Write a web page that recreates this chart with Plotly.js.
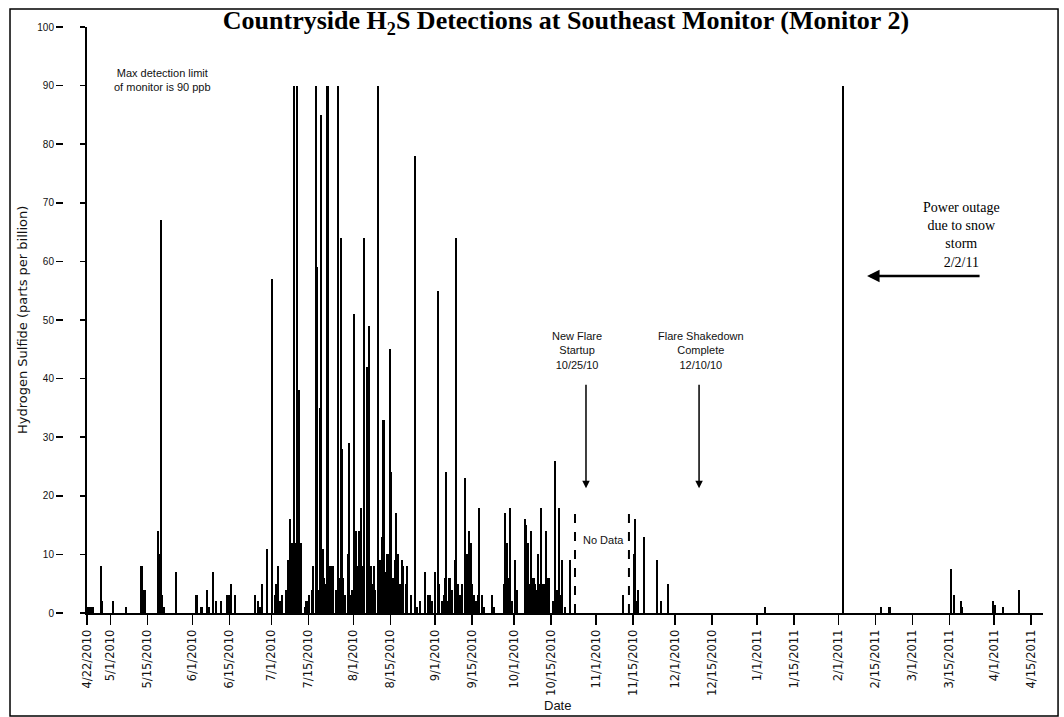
<!DOCTYPE html>
<html><head><meta charset="utf-8">
<script src="https://cdn.plot.ly/plotly-3.0.1.min.js"></script>
<style>html,body{margin:0;padding:0;background:#fff}#chart{width:1064px;height:717px}</style>
</head><body><div id="chart"></div>
<script>
// H2S readings (ppb)
const dates = [
 '2010-04-22 14:00','2010-04-23 12:00','2010-04-24 10:00','2010-04-27 11:00','2010-04-27 20:00',
 '2010-05-01 18:00','2010-05-06 19:00','2010-05-12 16:00','2010-05-13 05:00','2010-05-13 22:00',
 '2010-05-18 22:00','2010-05-19 10:00','2010-05-19 22:00','2010-05-20 08:00','2010-05-21 02:00','2010-05-25 19:00',
 '2010-06-02 05:00','2010-06-02 19:00','2010-06-04 02:00','2010-06-04 17:00','2010-06-06 14:00','2010-06-07 05:00',
 '2010-06-08 19:00','2010-06-10 00:00','2010-06-11 17:00','2010-06-14 05:00','2010-06-14 19:00','2010-06-15 12:00',
 '2010-06-17 00:00','2010-06-24 17:00','2010-06-26 00:00','2010-06-26 12:00','2010-06-27 12:00','2010-06-29 08:00',
 '2010-07-01 00:00','2010-07-01 06:00','2010-07-02 07:00','2010-07-02 19:00','2010-07-03 12:00','2010-07-04 05:00',
 '2010-07-04 19:00','2010-07-06 12:00','2010-07-07 07:00','2010-07-08 00:00','2010-07-08 14:00','2010-07-09 00:00',
 '2010-07-09 12:00','2010-07-10 05:00','2010-07-10 18:00','2010-07-11 07:00','2010-07-12 00:00','2010-07-13 17:00',
 '2010-07-14 05:00','2010-07-15 05:00','2010-07-16 05:00','2010-07-16 19:00','2010-07-17 17:00','2010-07-18 02:00',
 '2010-07-18 14:00','2010-07-19 10:00','2010-07-19 18:00','2010-07-20 10:00','2010-07-21 00:00','2010-07-21 14:00',
 '2010-07-22 05:00','2010-07-22 19:00','2010-07-23 05:00','2010-07-23 19:00','2010-07-24 10:00','2010-07-25 12:00',
 '2010-07-26 02:00','2010-07-26 19:00','2010-07-27 05:00','2010-07-27 14:00','2010-07-28 05:00','2010-07-28 19:00',
 '2010-07-29 22:00','2010-07-30 07:00','2010-07-31 00:00','2010-07-31 10:00',
 '2010-08-01 07:00','2010-08-01 22:00','2010-08-02 05:00','2010-08-02 17:00','2010-08-03 05:00','2010-08-03 14:00',
 '2010-08-04 00:00','2010-08-04 12:00','2010-08-05 00:00','2010-08-06 02:00','2010-08-06 12:00','2010-08-06 22:00',
 '2010-08-07 02:00','2010-08-07 14:00','2010-08-08 00:00','2010-08-08 19:00','2010-08-09 05:00','2010-08-10 05:00',
 '2010-08-11 00:00','2010-08-11 05:00','2010-08-11 19:00','2010-08-12 10:00','2010-08-13 00:00','2010-08-13 17:00',
 '2010-08-14 07:00','2010-08-14 22:00','2010-08-15 05:00','2010-08-16 05:00','2010-08-16 17:00','2010-08-17 02:00',
 '2010-08-18 02:00','2010-08-18 14:00','2010-08-19 10:00','2010-08-19 19:00','2010-08-20 19:00','2010-08-21 07:00',
 '2010-08-22 19:00','2010-08-24 05:00','2010-08-25 00:00','2010-08-26 10:00','2010-08-28 00:00','2010-08-29 12:00',
 '2010-08-30 02:00','2010-08-30 19:00',
 '2010-09-01 02:00','2010-09-02 02:00','2010-09-02 14:00','2010-09-03 14:00','2010-09-04 05:00','2010-09-04 22:00',
 '2010-09-05 07:00','2010-09-06 00:00','2010-09-06 10:00','2010-09-06 19:00','2010-09-07 12:00','2010-09-08 10:00',
 '2010-09-09 02:00','2010-09-09 19:00','2010-09-10 14:00','2010-09-11 07:00','2010-09-12 05:00','2010-09-12 12:00',
 '2010-09-13 07:00','2010-09-13 19:00','2010-09-14 10:00','2010-09-14 22:00','2010-09-15 17:00','2010-09-16 14:00',
 '2010-09-17 07:00','2010-09-17 14:00','2010-09-18 19:00','2010-09-19 10:00','2010-09-22 14:00','2010-09-23 07:00',
 '2010-09-27 05:00','2010-09-27 14:00','2010-09-28 02:00','2010-09-28 14:00','2010-09-29 07:00','2010-09-30 00:00',
 '2010-10-01 05:00','2010-10-02 00:00','2010-10-05 00:00','2010-10-05 07:00','2010-10-05 14:00','2010-10-06 05:00',
 '2010-10-06 19:00','2010-10-07 12:00','2010-10-07 22:00','2010-10-08 07:00','2010-10-08 19:00','2010-10-09 10:00',
 '2010-10-10 00:00','2010-10-10 14:00','2010-10-11 00:00','2010-10-11 22:00','2010-10-12 12:00','2010-10-13 05:00',
 '2010-10-13 19:00','2010-10-14 07:00','2010-10-15 14:00','2010-10-16 10:00','2010-10-17 05:00','2010-10-17 22:00',
 '2010-10-18 12:00','2010-10-19 02:00','2010-10-20 05:00','2010-10-22 07:00',
 '2010-11-11 02:00','2010-11-15 07:00','2010-11-15 19:00','2010-11-16 14:00','2010-11-17 02:00','2010-11-19 02:00',
 '2010-11-24 05:00','2010-11-25 17:00','2010-11-28 05:00',
 '2011-01-04 00:00','2011-02-02 12:00','2011-02-02 17:00','2011-02-17 00:00','2011-02-20 07:00',
 '2011-03-15 14:00','2011-03-16 17:00','2011-03-19 07:00','2011-03-19 17:00','2011-03-31 10:00',
 '2011-04-01 10:00','2011-04-04 05:00','2011-04-10 07:00'
];
const ppb = [
 1,1,1,8,2,
 2,1,8,4,4,
 14,10,67,3,1,7,
 3,3,1,1,4,1,
 7,2,2,3,3,5,
 3,3,2,1,5,11,
 57,44,3,5,8,2,
 3,4,9,16,12,9,
 90,12,90,38,12,1,
 2,3,4,8,90,59,
 4,35,85,11,6,5,
 90,8,8,8,8,4,
 90,6,64,28,6,3,
 10,29,3,4,
 51,14,8,8,14,7,
 18,8,64,42,20,7,
 49,8,5,8,4,90,
 9,3,13,33,7,10,
 10,45,24,6,9,17,
 10,5,9,8,5,8,
 3,78,1,2,7,3,
 3,2,
 7,55,5,2,3,6,
 24,2,6,6,4,9,
 64,5,3,5,23,9,
 10,14,12,5,3,2,
 3,18,3,1,3,1,
 5,17,12,6,18,2,
 9,4,16,9,15,12,
 5,14,4,6,5,4,
 10,5,18,5,5,14,
 6,6,2,26,4,18,
 3,9,1,9,
 3,10,16,2,4,13,
 9,2,5,
 1,90,66,1,1,
 7.5,3,2,1,2,
 1.3,1,4
];
const tickDates = ['2010-04-22','2010-05-01','2010-05-15','2010-06-01','2010-06-15','2010-07-01','2010-07-15',
 '2010-08-01','2010-08-15','2010-09-01','2010-09-15','2010-10-01','2010-10-15','2010-11-01','2010-11-15',
 '2010-12-01','2010-12-15','2011-01-01','2011-01-15','2011-02-01','2011-02-15','2011-03-01','2011-03-15',
 '2011-04-01','2011-04-15'];
const tickLabels = ['4/22/2010','5/1/2010','5/15/2010','6/1/2010','6/15/2010','7/1/2010','7/15/2010',
 '8/1/2010','8/15/2010','9/1/2010','9/15/2010','10/1/2010','10/15/2010','11/1/2010','11/15/2010',
 '12/1/2010','12/15/2010','1/1/2011','1/15/2011','2/1/2011','2/15/2011','3/1/2011','3/15/2011',
 '4/1/2011','4/15/2011'];
const yTicks = [0,10,20,30,40,50,60,70,80,90,100];

const DAY = 86400000;
const sans = 'Liberation Sans, Arial, sans-serif';
const dejavu = 'DejaVu Sans, sans-serif';
const serif = 'Liberation Serif, Times New Roman, serif';

const traces = [
  {type:'bar', x:dates, y:ppb, width:0.8*DAY, marker:{color:'#000', line:{width:0}}, hoverinfo:'x+y'},
  {type:'bar', x:dates, y:ppb, yaxis:'y2', width:0.8*DAY, marker:{color:'rgba(0,0,0,0)', line:{width:0}}, hoverinfo:'skip'}
];

const layout = {
  width:1064, height:717,
  margin:{l:40, r:21, t:27, b:104},
  paper_bgcolor:'#fff', plot_bgcolor:'#fff',
  showlegend:false, bargap:0,
  title:{text:'<b>Countryside H<sub>2</sub>S Detections at Southeast Monitor (Monitor 2)</b>',
    font:{family:serif, size:26, color:'#000'}, xref:'paper', x:0.5244, xanchor:'center',
    yref:'container', y:0.972, yanchor:'middle'},
  xaxis:{type:'date', domain:[0.04686,1], range:['2010-04-22','2011-04-19 12:00'],
    tickmode:'array', tickvals:tickDates, ticktext:tickLabels, tickangle:-90,
    ticks:'outside', ticklen:10, tickwidth:1.5, tickcolor:'#000',
    showline:true, linecolor:'#000', linewidth:2, showgrid:false, zeroline:false,
    tickfont:{family:dejavu, size:11.5, color:'#111'}, fixedrange:true},
  yaxis:{range:[0,100], tickmode:'array', tickvals:yTicks, ticks:'outside', ticklen:5, tickwidth:1.5,
    tickcolor:'#000', showticklabels:false, showline:true, linecolor:'#000', linewidth:2,
    showgrid:false, zeroline:false, fixedrange:true},
  yaxis2:{overlaying:'y', anchor:'free', position:0.0229, side:'left', range:[0,100],
    tickmode:'array', tickvals:yTicks, ticks:'outside', ticklen:7, tickwidth:1.5, tickcolor:'#000',
    showline:false, showgrid:false, zeroline:false, tickfont:{family:sans, size:10, color:'#111'}, fixedrange:true},
  shapes:[
    {type:'rect', xref:'paper', yref:'paper', x0:-0.0299, x1:1.015, y0:-0.1758, y1:1.0307,
      line:{color:'#000', width:1.5}, fillcolor:'rgba(0,0,0,0)'},
    {type:'line', xref:'x', yref:'y', x0:'2010-10-24 01:00', x1:'2010-10-24 01:00', y0:0, y1:17.4,
      line:{color:'#000', width:2, dash:'dash'}},
    {type:'line', xref:'x', yref:'y', x0:'2010-11-13 12:00', x1:'2010-11-13 12:00', y0:0, y1:17.4,
      line:{color:'#000', width:2, dash:'dash'}}
  ],
  annotations:[
    {xref:'paper', yref:'paper', x:-0.0179, y:0.5, text:'Hydrogen Sulfide (parts per billion)', textangle:-90,
      showarrow:false, font:{family:dejavu, size:13, color:'#111'}, xanchor:'center', yanchor:'middle'},
    {xref:'paper', yref:'paper', x:0.5155, y:-0.1587, text:'Date', showarrow:false,
      font:{family:sans, size:13, color:'#111'}, xanchor:'center', yanchor:'middle'},
    {xref:'paper', yref:'paper', x:0.1226, y:0.9096, text:'Max detection limit<br>of monitor is 90 ppb',
      showarrow:false, font:{family:sans, size:11, color:'#111'}, xanchor:'center', yanchor:'middle'},
    {xref:'paper', yref:'paper', x:0.5354, y:0.4471, text:'New Flare<br>Startup<br>10/25/10',
      showarrow:false, font:{family:sans, size:11, color:'#111'}, xanchor:'center', yanchor:'middle'},
    {xref:'paper', yref:'paper', x:0.659, y:0.4471, text:'Flare Shakedown<br>Complete<br>12/10/10',
      showarrow:false, font:{family:sans, size:11, color:'#111'}, xanchor:'center', yanchor:'middle'},
    {xref:'paper', yref:'paper', x:0.9192, y:0.645, text:'Power outage<br>due to snow<br>storm<br>2/2/11',
      showarrow:false, font:{family:serif, size:14, color:'#000'}, xanchor:'center', yanchor:'middle'},
    {xref:'x', yref:'y', x:'2010-11-03 17:00', y:12.5, text:'No Data', showarrow:false,
      font:{family:sans, size:11, color:'#111'}, xanchor:'center', yanchor:'middle'},
    {xref:'x', yref:'y', x:'2010-10-28 05:00', y:21.3, ax:0, ay:-105, text:'', showarrow:true,
      arrowhead:2, arrowsize:1, arrowwidth:1.5, arrowcolor:'#000'},
    {xref:'x', yref:'y', x:'2010-12-10 02:00', y:21.3, ax:0, ay:-105, text:'', showarrow:true,
      arrowhead:2, arrowsize:1, arrowwidth:1.5, arrowcolor:'#000'},
    {xref:'x', yref:'y', x:'2011-02-11 19:00', y:57.5, ax:114, ay:0, text:'', showarrow:true,
      arrowhead:2, arrowsize:1, arrowwidth:2.5, arrowcolor:'#000'}
  ]
};

Plotly.newPlot('chart', traces, layout, {displayModeBar:false, staticPlot:true});
</script>
</body></html>
